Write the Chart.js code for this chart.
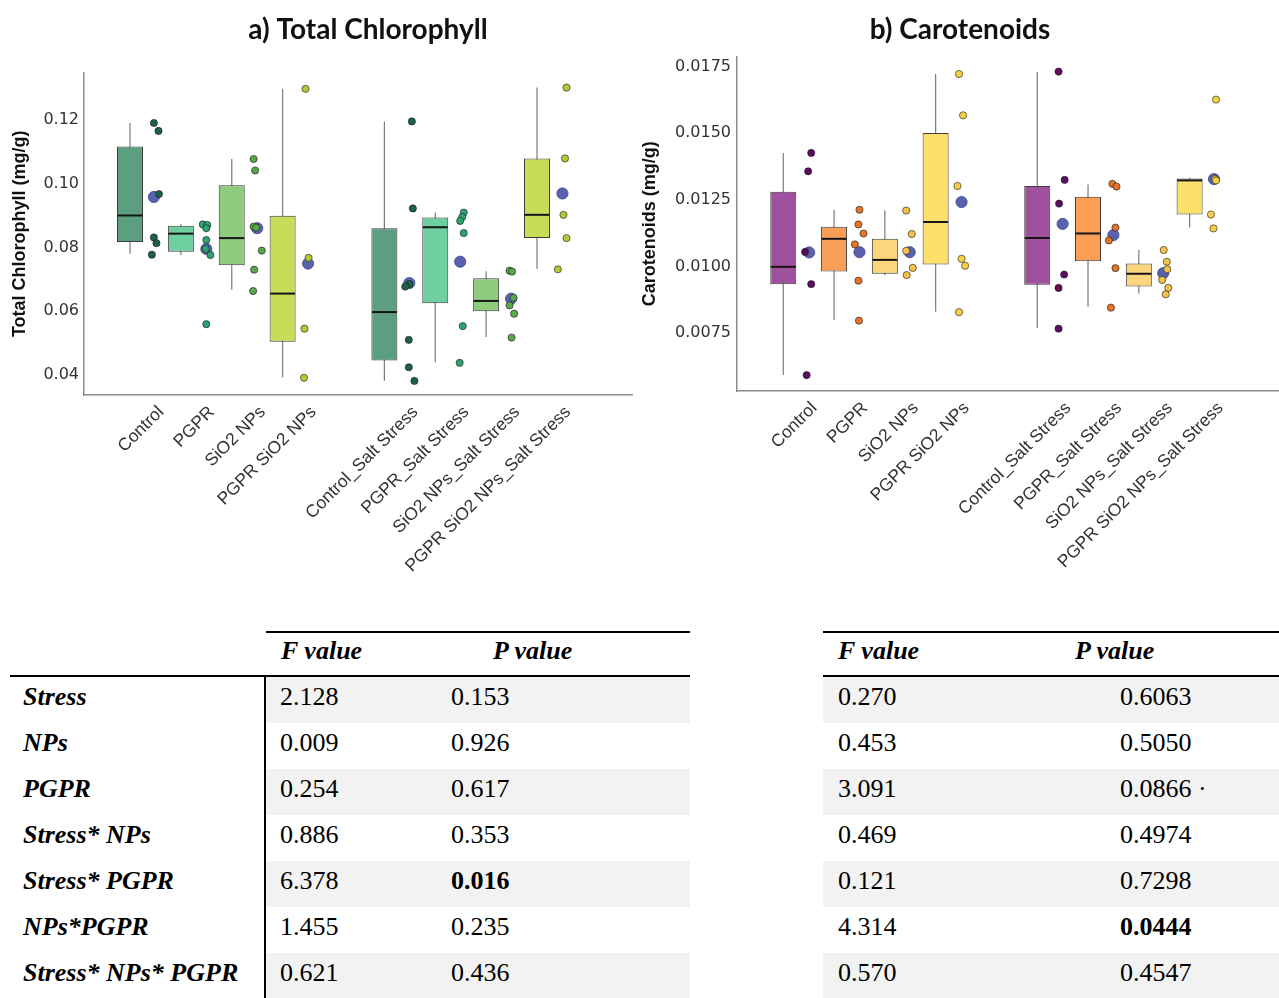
<!DOCTYPE html>
<html>
<head>
<meta charset="utf-8">
<script src="https://cdn.jsdelivr.net/npm/chart.js@4.4.1/dist/chart.umd.min.js"></script>
<style>
html,body{margin:0;padding:0;background:#fff;}
#page{position:relative;width:1279px;height:998px;overflow:hidden;background:#fff;}
#page canvas{position:absolute;top:0;}
#cA{left:0;}
#cB{left:641px;}
table.anova{position:absolute;top:631px;border-collapse:separate;border-spacing:0;table-layout:fixed;
  font-family:'Liberation Serif','Times New Roman',serif;font-size:26px;color:#000;}
table.anova td{padding:0;vertical-align:top;line-height:30px;white-space:nowrap;overflow:hidden;}
table.anova tr.head td{height:46px;padding-top:3px;box-sizing:border-box;}
table.anova tr.head td.ln{border-top:2px solid #000;}
table.anova tr.head td{border-bottom:2.5px solid #000;}
table.anova tr.row td{height:46px;padding-top:5px;box-sizing:border-box;}
table.anova tr.row.shade td.v{background:#f2f2f2;}
table.anova td.lab{font-weight:bold;font-style:italic;}
table.anova td.hd{font-weight:bold;font-style:italic;}
#tA{left:10px;width:680px;}
#tB{left:823px;width:456px;}
#tA td.labcol{border-right:2px solid #000;}
</style>
</head>
<body>
<div id="page">
  <canvas id="cA" width="736" height="600"></canvas>
  <canvas id="cB" width="638" height="600"></canvas>
  <table class="anova" id="tA"></table>
  <table class="anova" id="tB"></table>
</div>
<script>
// ---------- categories ----------
const CATEGORIES = ['Control','PGPR','SiO2 NPs','PGPR SiO2 NPs','Control_Salt Stress','PGPR_Salt Stress','SiO2 NPs_Salt Stress','PGPR SiO2 NPs_Salt Stress'];
const POSITIONS = [1,2,3,4,6,7,8,9];

// ---------- a) Total Chlorophyll ----------
const CHL_WHISKER_LOW  = [0.0780,0.0776,0.0667,0.0393,0.0382,0.0440,0.0519,0.0732];
const CHL_Q1           = [0.0817,0.0786,0.0744,0.0504,0.0445,0.0625,0.0600,0.0829];
const CHL_MEDIAN       = [0.0900,0.0843,0.0829,0.0655,0.0597,0.0863,0.0632,0.0902];
const CHL_Q3           = [0.1116,0.0868,0.0995,0.0899,0.0860,0.0894,0.0703,0.1079];
const CHL_WHISKER_HIGH = [0.1190,0.0874,0.1077,0.1297,0.1195,0.0909,0.0725,0.1301];
const CHL_MEANS        = [0.0958,0.0795,0.0860,0.0749,0.0688,0.0755,0.0639,0.0969];
const CHL_MEAN_JITTER  = [0.47,0.50,0.50,0.50,0.49,0.49,0.49,0.50];
const CHL_POINTS = [
  [0.1190,0.1165,0.0967,0.0831,0.0813,0.0777],
  [0.0872,0.0870,0.0860,0.0823,0.0795,0.0776,0.0559],
  [0.1077,0.1041,0.0865,0.0862,0.0790,0.0730,0.0663],
  [0.1297,0.0767,0.0545,0.0391],
  [0.1195,0.0922,0.0685,0.0677,0.0510,0.0424,0.0381],
  [0.0909,0.0895,0.0883,0.0845,0.0553,0.0438],
  [0.0727,0.0724,0.0642,0.0618,0.0592,0.0517],
  [0.1301,0.1079,0.0902,0.0829,0.0731]
];
const CHL_POINT_JITTER = [
  [0.47,0.56,0.57,0.47,0.52,0.43],
  [0.43,0.52,0.50,0.50,0.49,0.58,0.50],
  [0.43,0.46,0.43,0.48,0.59,0.44,0.42],
  [0.45,0.51,0.43,0.42],
  [0.54,0.56,0.49,0.41,0.48,0.48,0.59],
  [0.56,0.53,0.49,0.56,0.54,0.48],
  [0.46,0.51,0.54,0.46,0.55,0.50],
  [0.58,0.55,0.52,0.58,0.41]
];
const CHL_Y_TICKS = [0.04,0.06,0.08,0.10,0.12];
const CHL_Y_TICK_LABELS = ['0.04','0.06','0.08','0.10','0.12'];

// ---------- b) Carotenoids ----------
const CAR_WHISKER_LOW  = [0.00593,0.00800,0.00968,0.00831,0.00770,0.00849,0.00899,0.01146];
const CAR_Q1           = [0.00934,0.00981,0.00973,0.01008,0.00932,0.01020,0.00925,0.01195];
const CAR_MEDIAN       = [0.00999,0.01104,0.01025,0.01167,0.01107,0.01124,0.00973,0.01323];
const CAR_Q3           = [0.01280,0.01149,0.01104,0.01501,0.01302,0.01262,0.01011,0.01330];
const CAR_WHISKER_HIGH = [0.01426,0.01213,0.01210,0.01722,0.01730,0.01308,0.01062,0.01333];
const CAR_MEANS        = [0.01053,0.01054,0.01054,0.01242,0.01160,0.01118,0.00975,0.01328];
const CAR_MEAN_JITTER  = [0.51,0.50,0.49,0.51,0.50,0.50,0.48,0.48];
const CAR_POINTS = [
  [0.01426,0.01357,0.01055,0.00934,0.00593],
  [0.01213,0.01158,0.01124,0.01083,0.00947,0.00797],
  [0.01210,0.01122,0.01059,0.00995,0.00968],
  [0.01722,0.01567,0.01302,0.01029,0.01003,0.00829],
  [0.01731,0.01325,0.01236,0.00970,0.00920,0.00767],
  [0.01310,0.01300,0.01146,0.01098,0.00994,0.00846],
  [0.01062,0.01018,0.00990,0.00950,0.00920,0.00896],
  [0.01626,0.01328,0.01323,0.01195,0.01143]
];
const CAR_POINT_JITTER = [
  [0.55,0.49,0.43,0.55,0.46],
  [0.50,0.48,0.58,0.41,0.48,0.49],
  [0.42,0.53,0.42,0.55,0.43],
  [0.46,0.54,0.43,0.51,0.58,0.46],
  [0.42,0.54,0.43,0.53,0.42,0.42],
  [0.48,0.56,0.54,0.41,0.54,0.45],
  [0.49,0.55,0.56,0.46,0.58,0.53],
  [0.52,0.50,0.52,0.42,0.47]
];
const CAR_Y_TICKS = [0.0075,0.0100,0.0125,0.0150,0.0175];
const CAR_Y_TICK_LABELS = ['0.0075','0.0100','0.0125','0.0150','0.0175'];

// ---------- ANOVA tables ----------
const ANOVA_TERMS = ['Stress','NPs','PGPR','Stress* NPs','Stress* PGPR','NPs*PGPR','Stress* NPs* PGPR'];
const CHL_F = ['2.128','0.009','0.254','0.886','6.378','1.455','0.621'];
const CHL_P = ['0.153','0.926','0.617','0.353','0.016','0.235','0.436'];
const CAR_F = ['0.270','0.453','3.091','0.469','0.121','4.314','0.570'];
const CAR_P = ['0.6063','0.5050','0.0866 ·','0.4974','0.7298','0.0444','0.4547'];

// ---------- styles ----------
const CHL_BOX_COLORS   = ['#5c9f80','#6fcfa0','#8ecb7c','#c9dc5a','#5c9f80','#6fcfa0','#8ecb7c','#c9dc5a'];
const CHL_POINT_COLORS = ['#1d6243','#2fa271','#5aa64c','#b4c734','#1d6243','#2fa271','#5aa64c','#b4c734'];
const CAR_BOX_COLORS   = ['#a0519e','#f99e57','#fdd57c','#fddf6b','#a0519e','#f99e57','#fdd57c','#fddf6b'];
const CAR_POINT_COLORS = ['#5c0d5e','#e2742b','#f2c24a','#f4cf47','#5c0d5e','#e2742b','#f2c24a','#f4cf47'];
const MEAN_COLOR = '#5a62ae';

const medianPlugin = {
  id: 'medianLines',
  afterDatasetDraw(chart, args) {
    const ds = chart.data.datasets[args.index];
    if (!ds.medianValues) return;
    const ctx = chart.ctx, ys = chart.scales.y;
    ctx.save();
    ctx.strokeStyle = '#151515';
    ctx.lineWidth = 2;
    args.meta.data.forEach((bar, i) => {
      const py = ys.getPixelForValue(ds.medianValues[i]);
      const half = bar.width / 2;
      ctx.beginPath();
      ctx.moveTo(bar.x - half + 0.5, py);
      ctx.lineTo(bar.x + half - 0.5, py);
      ctx.stroke();
    });
    ctx.restore();
  }
};

function buildChart(canvasId, c) {
  const whiskers = POSITIONS.map((p, i) => ({x: p, y: [c.lo[i], c.hi[i]]}));
  const boxes = POSITIONS.map((p, i) => ({x: p, y: [c.q1[i], c.q3[i]]}));
  const pts = [], ptCols = [];
  c.points.forEach((arr, i) => arr.forEach((v, j) => {
    pts.push({x: POSITIONS[i] + c.jitter[i][j], y: v});
    ptCols.push(c.ptColors[i]);
  }));
  const means = POSITIONS.map((p, i) => ({x: p + c.meanJitter[i], y: c.means[i]}));

  const scales = {
    x: {
      type: 'linear', min: c.xMin, max: c.xMax, offset: false,
      grid: {display: false, drawTicks: false},
      border: {display: true, color: '#8c8c8c', width: 1.5},
      afterBuildTicks: s => { s.ticks = POSITIONS.map(v => ({value: v})); },
      afterFit: s => { s.height = c.xHeight; s.paddingLeft = 0; s.paddingRight = 0; },
      ticks: {autoSkip: false, minRotation: 45, maxRotation: 45, padding: 7, labelOffset: 31,
              color: '#333333', font: {family: 'Liberation Sans', size: 17.5},
              callback: (v, i) => CATEGORIES[i]}
    },
    y: {
      type: 'linear', position: 'left', min: c.yMin, max: c.yMax,
      grid: {display: false, drawTicks: false},
      border: {display: true, color: '#8c8c8c', width: 1.5},
      afterBuildTicks: s => { s.ticks = c.yTicks.map(v => ({value: v})); },
      afterFit: s => { s.width = c.yWidth; },
      ticks: {padding: c.yPad, color: '#333333', font: {family: 'DejaVu Sans', size: 16},
              callback: (v, i) => c.yTickLabels[i]},
      title: {display: true, text: c.yTitle, color: '#111',
              font: {family: 'Liberation Sans', size: 18, weight: 'bold', lineHeight: 1},
              padding: {top: c.yTitlePad, bottom: 0}}
    }
  };
  if (c.rightGap > 0) {
    scales.yGap = {
      type: 'linear', position: 'right', display: true,
      grid: {display: false, drawTicks: false}, border: {display: false},
      ticks: {display: false},
      afterFit: s => { s.width = c.rightGap; }
    };
  }

  return new Chart(document.getElementById(canvasId), {
    type: 'bar',
    data: {
      datasets: [
        {type: 'scatter', data: pts, order: 0, pointRadius: 3.6, pointHoverRadius: 3.6,
         pointBackgroundColor: ptCols, pointBorderColor: 'rgba(25,25,25,0.75)', pointBorderWidth: 0.8, showLine: false},
        {type: 'scatter', data: means, order: 1, pointRadius: 5.6, pointHoverRadius: 5.6,
         pointBackgroundColor: MEAN_COLOR, pointBorderColor: '#3c4590', pointBorderWidth: 0.8, showLine: false},
        {type: 'bar', data: boxes, order: 2, grouped: false, maxBarThickness: 26,
         backgroundColor: c.boxColors, borderColor: '#3c3c3c', borderWidth: 1, borderSkipped: false,
         medianValues: c.median},
        {type: 'bar', data: whiskers, order: 3, grouped: false, maxBarThickness: 1.2,
         backgroundColor: '#7a7a7a', borderWidth: 0}
      ]
    },
    options: {
      responsive: false, animation: false, devicePixelRatio: 1, events: [],
      layout: {autoPadding: false, padding: {left: 0, right: 0, top: 0, bottom: 0}},
      plugins: {
        legend: {display: false}, tooltip: {enabled: false},
        title: {display: true, text: c.title, color: '#111',
                font: {family: 'Lato', size: 28, weight: 'bold'},
                padding: {top: 13, bottom: c.titleBottom}}
      },
      scales: scales
    },
    plugins: [medianPlugin]
  });
}

buildChart('cA', {
  title: 'a) Total Chlorophyll', yTitle: 'Total Chlorophyll (mg/g)',
  lo: CHL_WHISKER_LOW, q1: CHL_Q1, median: CHL_MEDIAN, q3: CHL_Q3, hi: CHL_WHISKER_HIGH,
  means: CHL_MEANS, meanJitter: CHL_MEAN_JITTER, points: CHL_POINTS, jitter: CHL_POINT_JITTER,
  boxColors: CHL_BOX_COLORS, ptColors: CHL_POINT_COLORS,
  yTicks: CHL_Y_TICKS, yTickLabels: CHL_Y_TICK_LABELS,
  xMin: 0.096, xMax: 10.867, yMin: 0.0337, yMax: 0.1348,
  rightGap: 104, titleBottom: 26, xHeight: 205, yWidth: 84, yPad: 5, yTitlePad: 11
});

buildChart('cB', {
  title: 'b) Carotenoids', yTitle: 'Carotenoids (mg/g)',
  lo: CAR_WHISKER_LOW, q1: CAR_Q1, median: CAR_MEDIAN, q3: CAR_Q3, hi: CAR_WHISKER_HIGH,
  means: CAR_MEANS, meanJitter: CAR_MEAN_JITTER, points: CAR_POINTS, jitter: CAR_POINT_JITTER,
  boxColors: CAR_BOX_COLORS, ptColors: CAR_POINT_COLORS,
  yTicks: CAR_Y_TICKS, yTickLabels: CAR_Y_TICK_LABELS,
  xMin: 0.089, xMax: 10.76, yMin: 0.005334, yMax: 0.017872,
  rightGap: 0, titleBottom: 10, xHeight: 209, yWidth: 96, yPad: 6, yTitlePad: 0
});

// ---------- tables ----------
function el(tag, cls, txt) { const e = document.createElement(tag); if (cls) e.className = cls; if (txt != null) e.textContent = txt; return e; }
function isSig(p) { return parseFloat(p) < 0.05; }

(function () {
  const t = document.getElementById('tA');
  const cg = el('colgroup'); [256, 170, 254].forEach(w => { const c = el('col'); c.style.width = w + 'px'; cg.appendChild(c); }); t.appendChild(cg);
  const h = el('tr', 'head');
  const h0 = el('td', 'labcol0'); h.appendChild(h0);
  const h1 = el('td', 'hd ln', 'F value'); h1.style.paddingLeft = '15px'; h.appendChild(h1);
  const h2 = el('td', 'hd ln', 'P value'); h2.style.paddingLeft = '57px'; h.appendChild(h2);
  t.appendChild(h);
  ANOVA_TERMS.forEach((term, i) => {
    const r = el('tr', 'row' + (i % 2 === 0 ? ' shade' : ''));
    const a = el('td', 'lab labcol', term); a.style.paddingLeft = '13px'; r.appendChild(a);
    const b = el('td', 'v', CHL_F[i]); b.style.paddingLeft = '14px'; r.appendChild(b);
    const c = el('td', 'v'); c.style.paddingLeft = '15px';
    if (isSig(CHL_P[i])) c.appendChild(el('b', null, CHL_P[i])); else c.textContent = CHL_P[i];
    r.appendChild(c);
    t.appendChild(r);
  });
})();

(function () {
  const t = document.getElementById('tB');
  const cg = el('colgroup'); [237, 219].forEach(w => { const c = el('col'); c.style.width = w + 'px'; cg.appendChild(c); }); t.appendChild(cg);
  const h = el('tr', 'head');
  const h1 = el('td', 'hd ln', 'F value'); h1.style.paddingLeft = '15px'; h.appendChild(h1);
  const h2 = el('td', 'hd ln', 'P value'); h2.style.paddingLeft = '15px'; h.appendChild(h2);
  t.appendChild(h);
  ANOVA_TERMS.forEach((term, i) => {
    const r = el('tr', 'row' + (i % 2 === 0 ? ' shade' : ''));
    const b = el('td', 'v', CAR_F[i]); b.style.paddingLeft = '15px'; r.appendChild(b);
    const c = el('td', 'v'); c.style.paddingLeft = '60px';
    if (isSig(CAR_P[i])) c.appendChild(el('b', null, CAR_P[i])); else c.textContent = CAR_P[i];
    r.appendChild(c);
    t.appendChild(r);
  });
})();
</script>
</body>
</html>
